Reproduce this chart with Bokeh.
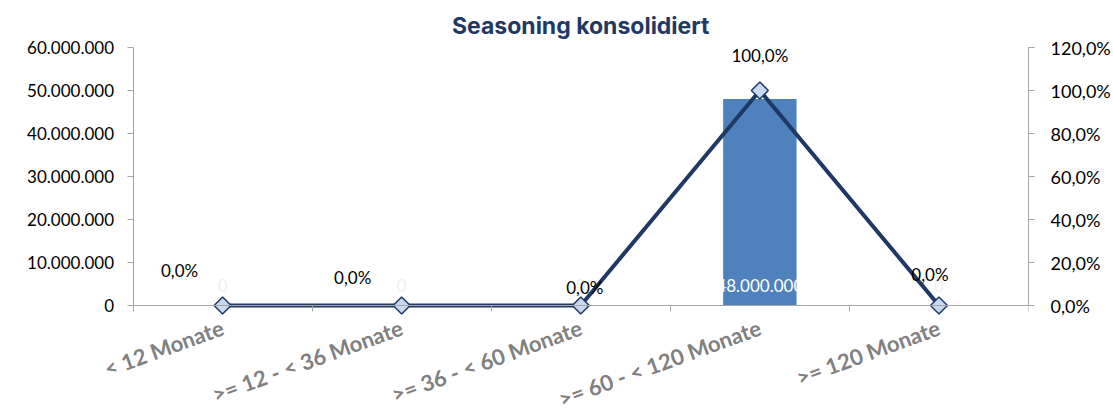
import math
from bokeh.plotting import figure
from bokeh.models import (Range1d, LinearAxis, ColumnDataSource, LabelSet, Label,
                          CustomJSTickFormatter, FixedTicker)
from bokeh.core.properties import value
from bokeh.embed import file_html
from bokeh.resources import INLINE

# ---- data ----
categories = ["< 12 Monate", ">= 12 - < 36 Monate", ">= 36 - < 60 Monate",
              ">= 60 - < 120 Monate", ">= 120 Monate"]
volumes = [0, 0, 0, 48000000, 0]
shares = [0.0, 0.0, 0.0, 1.0, 0.0]
title_text = "Seasoning konsolidiert"
vol_max = 60000000
pct_max = 1.2

# ---- styling / layout (not data) ----
pct_dx = [-43, -49, 4, 0, -9]
pct_dy = [35, 28, 18, 35, 31]
vol_label_colors = ["#f0f0f0", "#f0f0f0", "#f0f0f0", "#ffffff", "#f0f0f0"]

NAVY = "#1f3864"
BAR = "#4f81bd"
AXIS = "#a6a6a6"
FONT = "Lato"

W, H = 1113, 411
TOP = 47                            # pixel position of the top of the axes
TITLE_Y = 25                        # pixel position of the title's middle
AXIS_L, AXIS_R = 133, 1032          # pixel positions of the two value axes
FRAME_L = 12                        # frame extends left so rotated labels show
PLOT_PX = 258                       # pixels between 0 and the top of the axes
below_px = H - TOP - PLOT_PX
tick_px = 6
n = len(categories)
cat_px = (AXIS_R - AXIS_L) / n

x_start = -(AXIS_L - FRAME_L) / cat_px
y_start = -vol_max * below_px / PLOT_PX
y_end = vol_max * (1 + TOP / PLOT_PX)
p_start = -pct_max * below_px / PLOT_PX
p_end = pct_max * (1 + TOP / PLOT_PX)
title_y = vol_max * (1 + (TOP - TITLE_Y) / PLOT_PX)

xs = [i + 0.5 for i in range(n)]
bounds_x = list(range(n + 1))

def fmt_int(v):
    return f"{int(v):,}".replace(",", ".")

def fmt_pct(v):
    return f"{v*100:.1f}".replace(".", ",") + "%"

p = figure(width=W, height=H, output_backend="svg", toolbar_location=None,
           x_range=Range1d(x_start, n), y_range=Range1d(y_start, y_end),
           min_border_left=FRAME_L, min_border_right=W - AXIS_R,
           min_border_top=0, min_border_bottom=0)
p.outline_line_color = None
p.xgrid.visible = False
p.ygrid.visible = False
p.background_fill_color = "white"
p.border_fill_color = "white"

# title
p.add_layout(Label(x=n / 2, y=title_y, text=title_text, text_align="center",
                   text_baseline="middle", text_font="Inter",
                   text_font_size="23px", text_font_style="bold",
                   text_color=NAVY))

# left axis, drawn at x = 0
ya = p.yaxis[0]
ya.fixed_location = 0
ya.bounds = (0, vol_max)
ya.ticker = FixedTicker(ticks=[i * 10000000 for i in range(7)])
ya.formatter = CustomJSTickFormatter(code="return Math.round(tick).toString().replace(/\\B(?=(\\d{3})+(?!\\d))/g, '.');")
ya.axis_line_color = AXIS
ya.major_tick_line_color = AXIS
ya.major_tick_out = tick_px
ya.major_tick_in = 0
ya.minor_tick_line_color = None
ya.major_label_text_font = FONT
ya.major_label_text_font_size = "17px"
ya.major_label_text_color = "#000000"
ya.major_label_standoff = 13

# right axis
p.extra_y_ranges = {"pct": Range1d(p_start, p_end)}
ra = LinearAxis(y_range_name="pct", bounds=(0, pct_max))
ra.ticker = FixedTicker(ticks=[round(i * 0.2, 1) for i in range(7)])
ra.formatter = CustomJSTickFormatter(code="return (tick*100).toFixed(1).replace('.', ',') + '%';")
ra.axis_line_color = AXIS
ra.major_tick_line_color = AXIS
ra.major_tick_out = tick_px
ra.major_tick_in = 0
ra.minor_tick_line_color = None
ra.major_label_text_font = FONT
ra.major_label_text_font_size = "18px"
ra.major_label_text_color = "#000000"
ra.major_label_standoff = 16
p.add_layout(ra, "right")

# x axis at the zero line: tick marks at the category boundaries
xa = p.xaxis[0]
xa.fixed_location = 0
xa.bounds = (0, n)
xa.ticker = FixedTicker(ticks=bounds_x)
xa.formatter = CustomJSTickFormatter(code="return '';")
xa.axis_line_color = AXIS
xa.major_tick_line_color = AXIS
xa.major_tick_out = tick_px
xa.major_tick_in = 0
xa.minor_tick_line_color = None

# category names, rotated, below the zero line
ca = LinearAxis(fixed_location=0, ticker=FixedTicker(ticks=xs),
                formatter=CustomJSTickFormatter(args=dict(cats=categories),
                                                code="return cats[Math.floor(tick)];"))
ca.axis_line_color = None
ca.major_tick_line_color = None
ca.major_tick_out = 0
ca.major_tick_in = 0
ca.minor_tick_line_color = None
ca.major_label_orientation = 20 * math.pi / 180
ca.major_label_text_font = FONT
ca.major_label_text_font_style = "bold"
ca.major_label_text_font_size = "22px"
ca.major_label_text_color = "#808080"
ca.major_label_standoff = 21
p.add_layout(ca, "below")

src = ColumnDataSource(dict(
    x=xs, cat=categories, vol=volumes, share=shares,
    vol_txt=[fmt_int(v) for v in volumes],
    pct_txt=[fmt_pct(v) for v in shares],
    dx=pct_dx, dy=pct_dy, vcol=vol_label_colors,
    zero=[0] * n,
))

p.vbar(x="x", top="vol", bottom=0, width=0.41, source=src, fill_color=BAR,
       line_color=None)

p.line(x="x", y="share", source=src, y_range_name="pct", line_color=NAVY,
       line_width=4)
p.scatter(x="x", y="share", source=src, y_range_name="pct", marker="square",
          angle=math.pi / 4, size=12, fill_color="#c6d9f1", line_color=NAVY,
          line_width=1.5)

vol_labels = LabelSet(x="x", y="zero", text="vol_txt", source=src,
                      text_align="center", text_baseline="middle", y_offset=20,
                      text_color="vcol", text_font=value(FONT),
                      text_font_size="17px")
p.add_layout(vol_labels)

pct_labels = LabelSet(x="x", y="share", y_range_name="pct", text="pct_txt",
                      source=src, x_offset="dx", y_offset="dy",
                      text_align="center", text_baseline="middle",
                      text_color="#000000", text_font=value(FONT),
                      text_font_size="17px")
p.add_layout(pct_labels)

open("out.html", "w").write(file_html(p, INLINE))
